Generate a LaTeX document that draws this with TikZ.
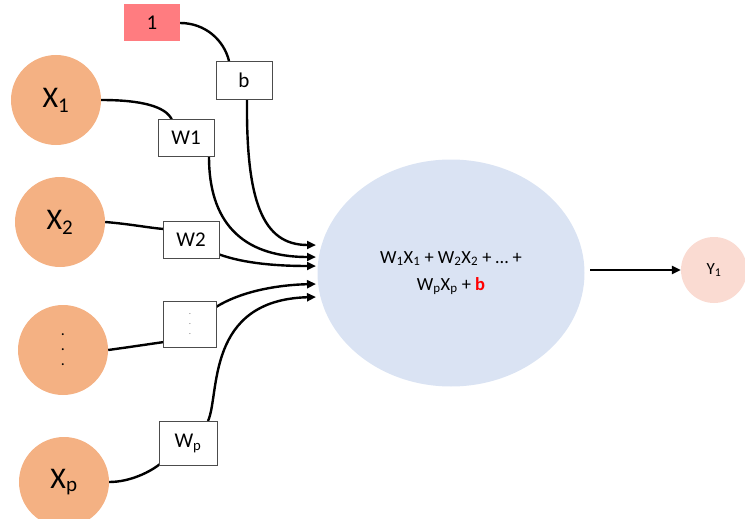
\documentclass[tikz,border=0pt]{standalone}
\usepackage{fontspec}
\setmainfont{Carlito}
\usetikzlibrary{arrows.meta,shapes.geometric}
\definecolor{inorange}{HTML}{F4B183}
\definecolor{sumblue}{HTML}{DAE3F3}
\definecolor{outpink}{HTML}{FADBD2}
\definecolor{biaspink}{HTML}{FF7C80}
\tikzset{
  incirc/.style={circle,fill=inorange,minimum size=90pt,inner sep=0pt,font=\fontsize{30}{32}\selectfont},
  wbox/.style={draw=black!70,fill=white,line width=0.8pt,inner sep=0pt,font=\fontsize{21}{24}\selectfont},
  conn/.style={line width=2.4pt,black},
  arr/.style={conn,-{Triangle[length=9pt,width=8pt]}},
}
\begin{document}
\begin{tikzpicture}[x=1pt,y=-1pt]
\useasboundingbox (0,0) rectangle (745,519);
\clip (0,0) rectangle (745,519);
% nodes
\node[incirc] (x1) at (56,100) {X\textsubscript{1}};
\node[incirc] (x2) at (60,222) {X\textsubscript{2}};
\node[incirc,font=\fontsize{16}{15}\selectfont,align=center] (xd) at (63,350) {.\\.\\.};
\node[incirc] (xp) at (64,482) {X\textsubscript{p}};
\node[ellipse,fill=sumblue,minimum width=267pt,minimum height=227pt,inner sep=0pt,font=\fontsize{18.5}{27}\selectfont,align=center] (sum) at (451,273)
  {W\textsubscript{1}X\textsubscript{1} + W\textsubscript{2}X\textsubscript{2} + \dots\ +\\W\textsubscript{p}X\textsubscript{p} + \textcolor{red}{\textbf{b}}};
\node[circle,fill=outpink,minimum size=66pt,inner sep=0pt,font=\fontsize{17}{19}\selectfont] (y) at (714,270) {Y\textsubscript{1}};
\node[fill=biaspink,minimum width=56pt,minimum height=37pt,inner sep=0pt,font=\fontsize{21}{24}\selectfont] (one) at (152,23) {1};
% arrow endpoints
\coordinate (e1) at (316,245);
\coordinate (e2) at (316,257);
\coordinate (e3) at (316,266);
\coordinate (e4) at (316,284);
\coordinate (e5) at (316,297);
% connectors (drawn before boxes)
\draw[conn] (one.east) .. controls (205,23) and (224,40) .. (229,61) coordinate (bt);
\draw[arr] (247,99) coordinate (bb) .. controls (246,200) and (262,245) .. (e1);
\draw[conn] (x1.east) .. controls (140,100) and (166,106) .. (172,120);
\draw[arr] (209,157) .. controls (209,220) and (240,257) .. (e2);
\draw[conn] (x2.east) .. controls (130,224) and (150,228) .. (164,229);
\draw[arr] (218,254) .. controls (245,264) and (280,266) .. (e3);
\draw[conn] (xd.east) .. controls (130,347) and (150,344) .. (164,342);
\draw[arr] (216,307) .. controls (240,292) and (275,285) .. (e4);
\draw[conn] (xp.east) .. controls (130,482) and (150,472) .. (160,464);
\draw[arr] (208,421) .. controls (220,395) and (205,300) .. (e5);
\draw[arr] (590,270) -- (y.west);
% weight boxes
\node[wbox,minimum width=56pt,minimum height=38pt] (b) at (244,80) {b};
\node[wbox,minimum width=56pt,minimum height=37pt] (w1) at (186,138) {W1};
\node[wbox,minimum width=56pt,minimum height=37pt] (w2) at (191,240) {W2};
\node[wbox,minimum width=53pt,minimum height=46pt,font=\fontsize{9}{10}\selectfont,text=black!50,align=center] (wd) at (190,324) {.\\.\\.};
\node[wbox,minimum width=58pt,minimum height=44pt] (wp) at (188,443) {W\textsubscript{p}};
\end{tikzpicture}
\end{document}
